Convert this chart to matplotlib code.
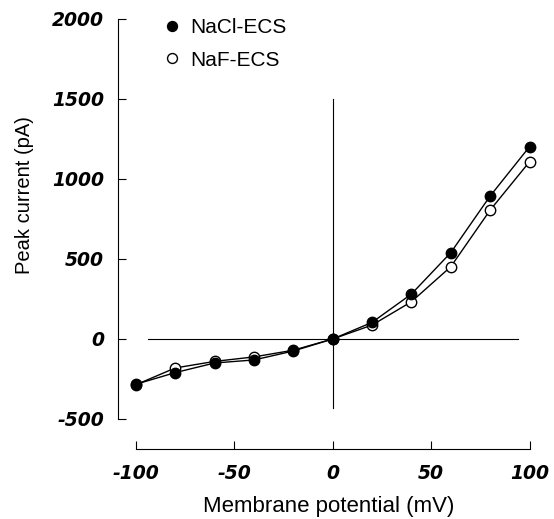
import matplotlib.pyplot as plt

plt.rcParams["font.family"] = ["Liberation Sans", "DejaVu Sans"]
plt.rcParams["axes.unicode_minus"] = False

# membrane potential (mV)
v = [-100, -80, -60, -40, -20, 0, 20, 40, 60, 80, 100]
# peak current (pA)
nacl = [-283, -210, -150, -131, -75, 0, 104, 281, 540, 894, 1202]
naf = [-286, -181, -140, -112, -70, 0, 87, 233, 452, 806, 1108]

yticks = [-500, 0, 500, 1000, 1500, 2000]
xticks = [-100, -50, 0, 50, 100]


def main():
    fig = plt.figure(figsize=(5.54, 5.19), dpi=100)
    ax = fig.add_axes([0.213, 0.1349, 0.7617, 0.8285])
    ax.set_xlim(-109.1, 105.3)
    ax.set_ylim(-687.5, 2000)

    # reference cross through the origin
    ax.plot([-94, 94], [0, 0], color="black", lw=0.8, zorder=1)
    ax.plot([0, 0], [-430, 1500], color="black", lw=0.8, zorder=1)

    ax.plot(v, naf, color="black", lw=1.0, marker="o", ms=7.5,
            mfc="white", mec="black", mew=1.0, label="NaF-ECS", zorder=2)
    ax.plot(v, nacl, color="black", lw=1.0, marker="o", ms=7.5,
            mfc="black", mec="black", label="NaCl-ECS", zorder=3)

    for s in ["top", "right"]:
        ax.spines[s].set_visible(False)
    ax.spines["left"].set_bounds(-500, 2000)
    ax.spines["bottom"].set_bounds(-100, 100)
    ax.spines["left"].set_linewidth(0.8)
    ax.spines["bottom"].set_linewidth(0.8)

    ax.set_xticks(xticks)
    ax.set_yticks(yticks)
    ax.tick_params(direction="in", length=6, width=0.8)
    ax.tick_params(axis="y", pad=10)
    ax.tick_params(axis="x", pad=11)
    for lab in ax.get_xticklabels() + ax.get_yticklabels():
        lab.set_family("DejaVu Sans")
        lab.set_fontsize(13.5)
        lab.set_fontweight("bold")
        lab.set_fontstyle("italic")

    ax.set_xlabel("Membrane potential (mV)", fontsize=16, labelpad=9.5)
    fig.text(25 / 554, 1 - 195 / 519, "Peak current (pA)", fontsize=14.5,
             rotation=90, ha="center", va="center")

    h, l = ax.get_legend_handles_labels()
    leg = ax.legend(h[::-1], l[::-1], loc="upper left",
                    bbox_to_anchor=(0.064, 1.045), frameon=False,
                    fontsize=15, handlelength=0.8, handletextpad=0.45,
                    labelspacing=0.64, markerscale=0.95)
    for line in leg.get_lines():
        line.set_linestyle("none")

    fig.savefig("out.png", dpi=100)


if __name__ == "__main__":
    main()
